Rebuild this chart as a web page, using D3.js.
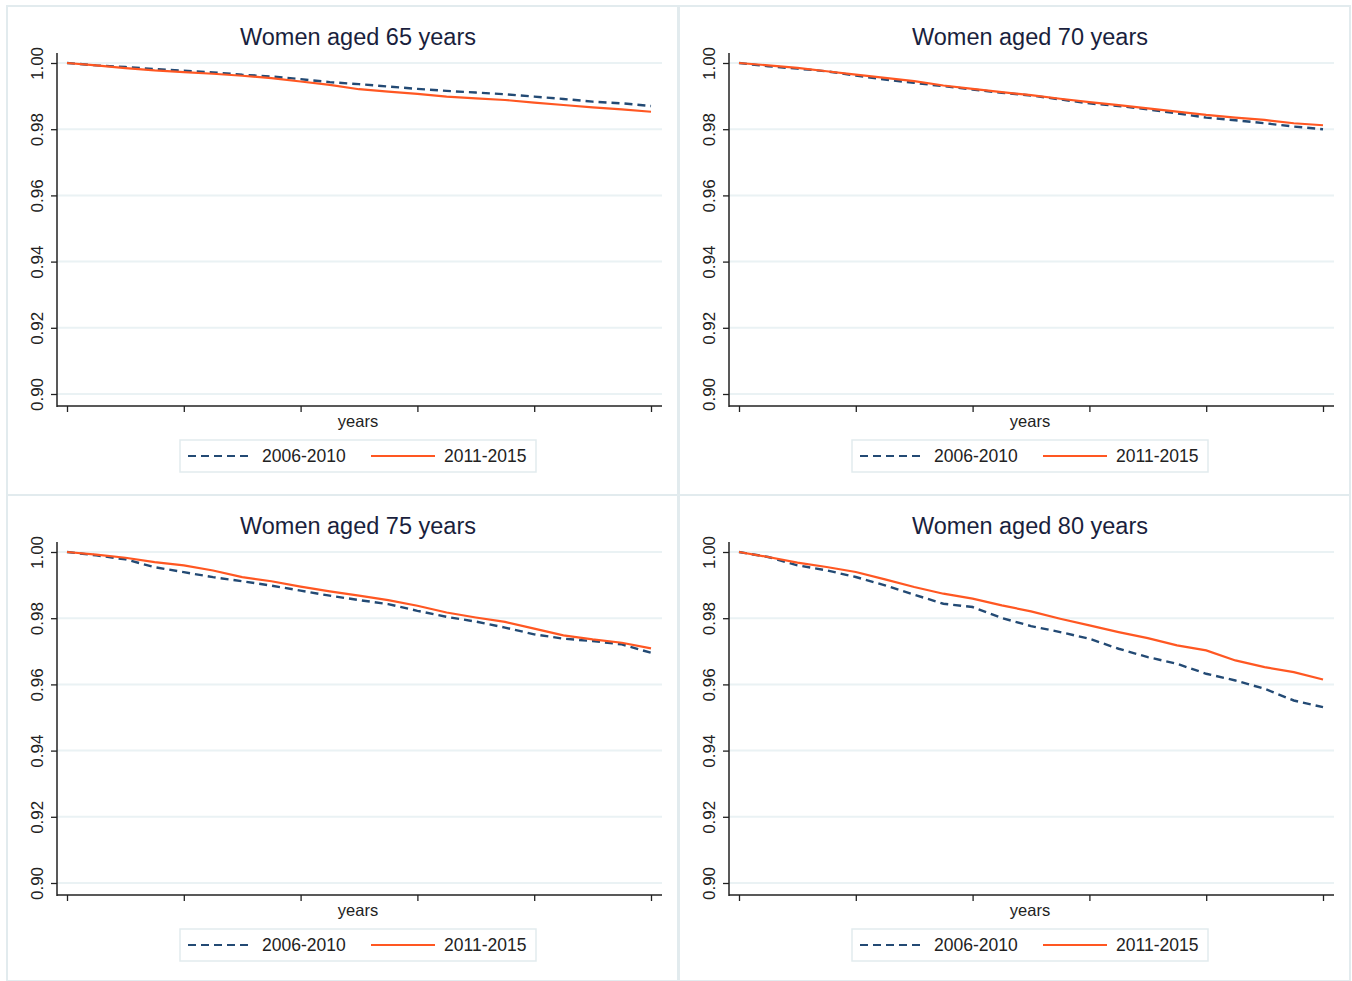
<!DOCTYPE html>
<html>
<head>
<meta charset="utf-8">
<script src="https://cdn.jsdelivr.net/npm/d3@7"></script>
<style>
  body { margin: 0; background: #fff; }
  text { font-family: "Liberation Sans", Arial, sans-serif; }
</style>
</head>
<body>
<div id="chart"></div>
<script>
// follow-up time, in years
var years = [0, 0.25, 0.5, 0.75, 1, 1.25, 1.5, 1.75, 2, 2.25, 2.5, 2.75, 3, 3.25, 3.5, 3.75, 4, 4.25, 4.5, 4.75, 5];

var titles = ["Women aged 65 years", "Women aged 70 years", "Women aged 75 years", "Women aged 80 years"];
var legendLabels = ["2006-2010", "2011-2015"];
var yTicks = [0.90, 0.92, 0.94, 0.96, 0.98, 1.00];
var xTicks = [0, 1, 2, 3, 4, 5];

// survival, 2006-2010 (dashed) and 2011-2015 (solid)
var age65_0610 = [1, .99929, .99878, .99817, .99767, .99716, .99645, .99594, .99513, .99421, .99361, .9929, .99218, .99157, .99107, .99056, .98985, .98914, .98833, .98782, .98701];
var age65_1115 = [1, .99929, .99848, .99777, .99726, .99675, .99614, .99543, .99442, .9934, .99208, .99137, .99066, .98985, .98934, .98883, .98802, .98731, .9866, .98599, .98528];
var age70_0610 = [1, .999, .9983, .9975, .9962, .995, .994, .993, .992, .991, .9902, .989, .9878, .987, .986, .9848, .9835, .9827, .9818, .9808, .980];
var age70_1115 = [1, .9993, .9985, .9975, .9965, .9955, .9945, .9932, .9922, .9912, .9903, .9892, .9882, .9873, .9863, .9853, .9843, .9835, .9828, .9818, .9812];
var age75_0610 = [1, .99898, .99777, .99543, .99391, .99239, .99117, .98985, .98832, .9868, .98548, .98426, .98223, .98041, .97898, .97716, .97513, .97381, .9731, .97208, .96955];
var age75_1115 = [1, .99919, .99827, .99695, .99594, .99442, .99239, .99117, .98955, .98812, .9868, .98548, .98376, .98173, .98021, .97889, .97686, .97483, .97361, .97259, .97087];
var age80_0610 = [1, .99849, .99597, .99446, .99244, .98992, .9871, .98437, .98337, .98004, .97762, .97581, .97379, .97077, .96825, .96623, .96321, .96119, .95867, .95514, .95313];
var age80_1115 = [1, .99849, .99677, .99546, .99395, .99173, .98942, .9874, .98589, .98387, .98206, .97984, .97782, .97581, .97399, .97177, .97026, .96724, .96522, .96371, .96149];

var panels = [
    { title: titles[0], a: age65_0610, b: age65_1115 },
    { title: titles[1], a: age70_0610, b: age70_1115 },
    { title: titles[2], a: age75_0610, b: age75_1115 },
    { title: titles[3], a: age80_0610, b: age80_1115 }
];

var navy = "#234a74";
var orange = "#ff5722";
var ink = "#222";
var frame = "#e2ebee";

var svg = d3.select("#chart").append("svg")
    .attr("width", 1352)
    .attr("height", 981);

svg.append("rect").attr("width", 1352).attr("height", 981).attr("fill", "#fff");

var x = d3.scaleLinear().domain([0, 5]).range([67, 651]);
var y = d3.scaleLinear().domain([0.90, 1.00]).range([394, 63]);

var line = d3.line()
    .x(function (d, i) { return x(years[i]); })
    .y(function (d) { return y(d); });

panels.forEach(function (p, k) {
    var col = k % 2, row = Math.floor(k / 2);
    var g = svg.append("g")
        .attr("transform", "translate(" + (col * 672) + "," + (row * 489) + ")");

    // panel frame
    g.append("rect")
        .attr("x", 7).attr("y", 6)
        .attr("width", 671).attr("height", row == 0 ? 489 : 486)
        .attr("fill", "#fff")
        .attr("stroke", frame)
        .attr("stroke-width", 2);

    // gridlines
    g.selectAll(".grid")
        .data(yTicks)
        .enter()
        .append("line")
        .attr("x1", 57).attr("x2", 662)
        .attr("y1", function (d) { return y(d); })
        .attr("y2", function (d) { return y(d); })
        .attr("stroke", "#eaf2f4")
        .attr("stroke-width", 2);

    // y axis
    var yAxis = g.append("g")
        .attr("transform", "translate(57,0)")
        .call(d3.axisLeft(y).tickValues(yTicks).tickSize(6).tickSizeOuter(0).tickFormat(d3.format(".2f")));
    yAxis.select(".domain").remove();
    yAxis.selectAll(".tick line").attr("stroke", ink).attr("stroke-width", 1.3);
    yAxis.selectAll(".tick text")
        .attr("transform", "rotate(-90)")
        .attr("x", 0)
        .attr("y", -14)
        .attr("dy", 0)
        .attr("text-anchor", "middle")
        .attr("font-size", "17px")
        .attr("fill", ink);
    g.append("line")
        .attr("x1", 57).attr("x2", 57)
        .attr("y1", 53).attr("y2", 407)
        .attr("stroke", ink).attr("stroke-width", 1.5);

    // x axis
    var xAxis = g.append("g")
        .attr("transform", "translate(0,406)")
        .call(d3.axisBottom(x).tickValues(xTicks).tickSize(6).tickFormat(""));
    xAxis.select(".domain").remove();
    xAxis.selectAll(".tick line").attr("stroke", ink).attr("stroke-width", 1.3);
    g.append("line")
        .attr("x1", 57).attr("x2", 662)
        .attr("y1", 406).attr("y2", 406)
        .attr("stroke", ink).attr("stroke-width", 1.5);

    g.append("text")
        .attr("x", 358).attr("y", 427)
        .attr("text-anchor", "middle")
        .attr("font-size", "16.5px")
        .attr("fill", ink)
        .text("years");

    // title
    g.append("text")
        .attr("x", 358).attr("y", 45)
        .attr("text-anchor", "middle")
        .attr("font-size", "23.5px")
        .attr("fill", "#1a1f3d")
        .text(p.title);

    // survival curves
    g.append("path")
        .datum(p.a)
        .attr("d", line)
        .attr("fill", "none")
        .attr("stroke", navy)
        .attr("stroke-width", 2.4)
        .attr("stroke-dasharray", "8,5");
    g.append("path")
        .datum(p.b)
        .attr("d", line)
        .attr("fill", "none")
        .attr("stroke", orange)
        .attr("stroke-width", 2.2);

    // legend
    var lg = g.append("g");
    lg.append("rect")
        .attr("x", 180).attr("y", 440)
        .attr("width", 356).attr("height", 32)
        .attr("fill", "#fff")
        .attr("stroke", frame)
        .attr("stroke-width", 1.5);
    lg.append("line")
        .attr("x1", 188).attr("x2", 253).attr("y1", 456).attr("y2", 456)
        .attr("stroke", navy).attr("stroke-width", 2.2).attr("stroke-dasharray", "8,5");
    lg.append("text")
        .attr("x", 262).attr("y", 462)
        .attr("font-size", "17.5px").attr("fill", ink)
        .text(legendLabels[0]);
    lg.append("line")
        .attr("x1", 371).attr("x2", 435).attr("y1", 456).attr("y2", 456)
        .attr("stroke", orange).attr("stroke-width", 2.2);
    lg.append("text")
        .attr("x", 444).attr("y", 462)
        .attr("font-size", "17.5px").attr("fill", ink)
        .text(legendLabels[1]);
});
</script>
</body>
</html>
